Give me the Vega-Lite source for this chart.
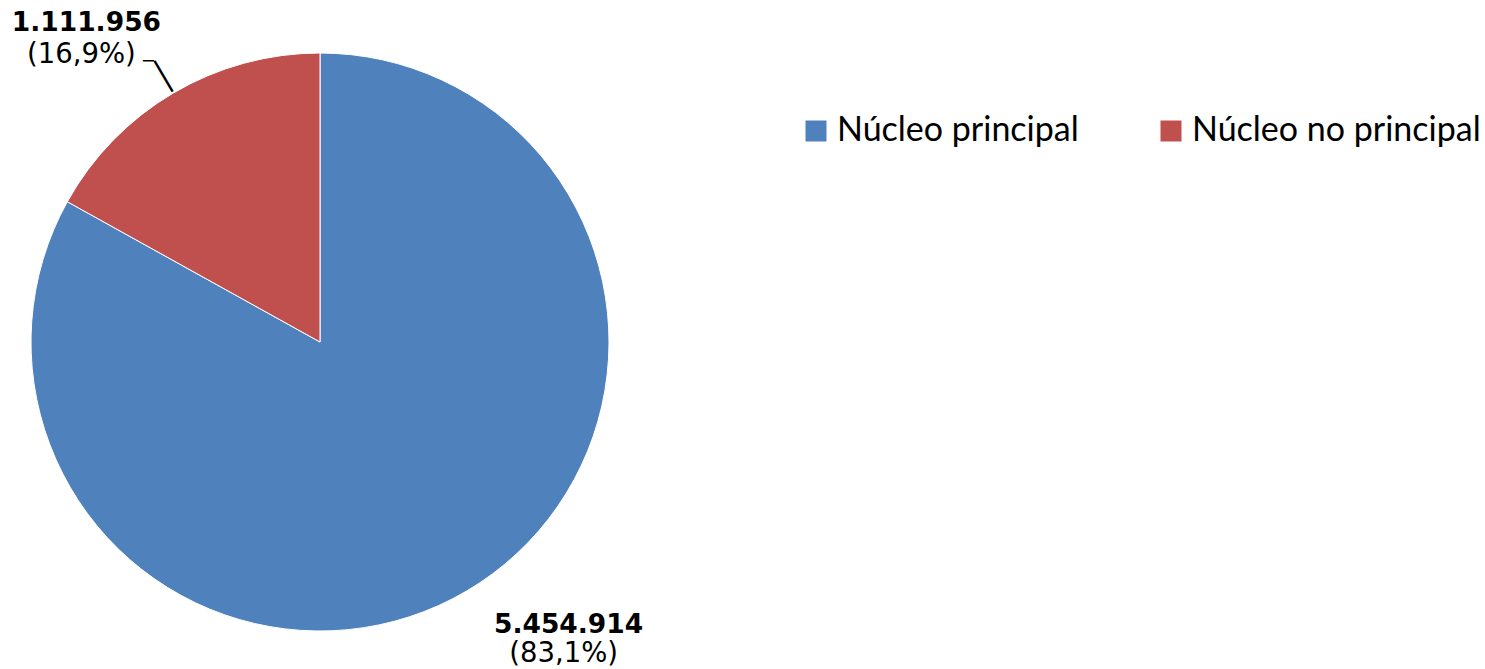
{
  "$schema": "https://vega.github.io/schema/vega-lite/v6.json",
  "width": 640,
  "height": 654,
  "padding": {"top": 9, "left": 0, "right": 0, "bottom": 0},
  "autosize": {"type": "pad"},
  "background": "white",
  "config": {"view": {"stroke": null}},
  "data": {
    "values": [
      {"categoria": "Núcleo principal", "valor": 5454914, "numero": "5.454.914", "pct": "(83,1%)"},
      {"categoria": "Núcleo no principal", "valor": 1111956, "numero": "1.111.956", "pct": "(16,9%)"}
    ]
  },
  "encoding": {
    "theta": {"field": "valor", "type": "quantitative", "stack": true},
    "order": {"field": "valor", "type": "quantitative", "sort": "descending"}
  },
  "layer": [
    {
      "mark": {"type": "arc", "outerRadius": 289, "stroke": "#ffffff", "strokeWidth": 1},
      "encoding": {
        "color": {
          "field": "categoria",
          "type": "nominal",
          "scale": {"domain": ["Núcleo principal", "Núcleo no principal"], "range": ["#4F81BD", "#C0504D"]},
          "legend": {
            "title": null,
            "orient": "none",
            "legendX": 799,
            "legendY": 99,
            "direction": "horizontal",
            "symbolType": "square",
            "symbolSize": 441,
            "symbolStrokeWidth": 0,
            "labelFont": "Lato",
            "labelFontSize": 34,
            "labelColor": "#000000",
            "labelOffset": 4,
            "columnPadding": 75,
            "padding": 0,
            "labelLimit": 0
          }
        }
      }
    },
    {
      "mark": {"type": "text", "radius": 307, "angle": -30.5, "font": "DejaVu Sans", "fontSize": 30, "baseline": "middle", "align": "center", "color": "#000000"},
      "encoding": {"text": {"condition": {"test": "datum.categoria === 'Núcleo no principal'", "value": "│"}, "value": ""}}
    },
    {
      "mark": {"type": "text", "radius": 289, "dx": -25, "dy": -31, "font": "DejaVu Sans", "fontSize": 18, "baseline": "middle", "align": "center", "color": "#000000"},
      "encoding": {"text": {"condition": {"test": "datum.categoria === 'Núcleo no principal'", "value": "─"}, "value": ""}}
    },
    {
      "mark": {"type": "text", "radius": 289, "dx": 102, "dy": 42, "font": "DejaVu Sans", "fontSize": 26.5, "fontWeight": "bold", "baseline": "alphabetic", "align": "center", "color": "#000000"},
      "encoding": {"text": {"condition": {"test": "datum.categoria === 'Núcleo principal'", "field": "numero"}, "value": ""}}
    },
    {
      "mark": {"type": "text", "radius": 289, "dx": 97, "dy": 71, "font": "DejaVu Sans", "fontSize": 27.5, "baseline": "alphabetic", "align": "center", "color": "#000000"},
      "encoding": {"text": {"condition": {"test": "datum.categoria === 'Núcleo principal'", "field": "pct"}, "value": ""}}
    },
    {
      "mark": {"type": "text", "radius": 289, "dx": -87, "dy": -62, "font": "DejaVu Sans", "fontSize": 26.5, "fontWeight": "bold", "baseline": "alphabetic", "align": "center", "color": "#000000"},
      "encoding": {"text": {"condition": {"test": "datum.categoria === 'Núcleo no principal'", "field": "numero"}, "value": ""}}
    },
    {
      "mark": {"type": "text", "radius": 289, "dx": -92, "dy": -30, "font": "DejaVu Sans", "fontSize": 27.5, "baseline": "alphabetic", "align": "center", "color": "#000000"},
      "encoding": {"text": {"condition": {"test": "datum.categoria === 'Núcleo no principal'", "field": "pct"}, "value": ""}}
    }
  ]
}
